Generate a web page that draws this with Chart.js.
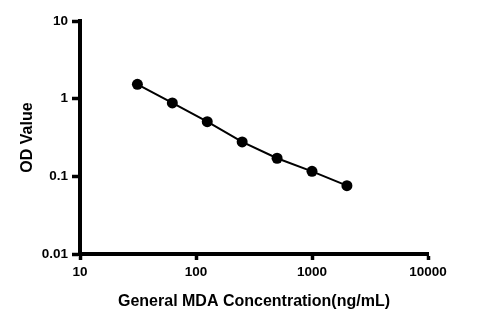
<!DOCTYPE html>
<html>
<head>
<meta charset="utf-8">
<script src="https://cdn.jsdelivr.net/npm/chart.js@4"></script>
<style>
  html, body { margin: 0; padding: 0; background: #fff; }
  #wrap { width: 478px; height: 325px; }
</style>
</head>
<body>
<div id="wrap"><canvas id="chart"></canvas></div>
<script>
// standard curve: concentration vs OD
const concentrations = [31.25, 62.5, 125, 250, 500, 1000, 2000];
const odValues = [1.53, 0.88, 0.505, 0.277, 0.171, 0.116, 0.0758];
const xTicks = [10, 100, 1000, 10000];
const yTicks = [0.01, 0.1, 1, 10];

Chart.defaults.font.family = "'Liberation Sans', Arial, sans-serif";
Chart.defaults.color = '#000';

const tickFont = { size: 13.5, weight: 'bold' };
const titleFont = { size: 16, weight: 'bold' };

new Chart(document.getElementById('chart'), {
  type: 'line',
  data: {
    datasets: [{
      data: concentrations.map((c, i) => ({ x: c, y: odValues[i] })),
      borderColor: '#000',
      backgroundColor: '#000',
      borderWidth: 2,
      pointRadius: 5.5,
      pointBackgroundColor: '#000',
      pointBorderWidth: 0,
      tension: 0
    }]
  },
  options: {
    responsive: true,
    maintainAspectRatio: false,
    animation: false,
    layout: { padding: { top: 21, right: 50, left: 0, bottom: 0 } },
    plugins: { legend: { display: false }, tooltip: { enabled: false } },
    scales: {
      x: {
        type: 'logarithmic',
        min: 10,
        max: 10000,
        afterBuildTicks: s => { s.ticks = xTicks.map(v => ({ value: v })); },
        afterFit: s => { s.height = 71; },
        ticks: { font: tickFont, padding: 4, callback: v => String(v), autoSkip: false, maxRotation: 0 },
        grid: { display: true, drawOnChartArea: false, drawTicks: true, tickLength: 6, tickWidth: 3.5, color: '#000' },
        border: { display: true, width: 4, color: '#000' },
        title: { display: true, text: 'General MDA Concentration(ng/mL)', font: titleFont, padding: { top: 0, bottom: 14 } }
      },
      y: {
        type: 'logarithmic',
        min: 0.01,
        max: 10,
        afterBuildTicks: s => { s.ticks = yTicks.map(v => ({ value: v })); },
        afterFit: s => { s.width = 80; },
        ticks: { font: tickFont, padding: 4, callback: v => String(v), autoSkip: false },
        grid: { display: true, drawOnChartArea: false, drawTicks: true, tickLength: 8, tickWidth: 3.5, color: '#000' },
        border: { display: true, width: 4, color: '#000' },
        title: { display: true, text: 'OD Value', font: titleFont, padding: { top: 18, bottom: 0 } }
      }
    }
  }
});
</script>
</body>
</html>
